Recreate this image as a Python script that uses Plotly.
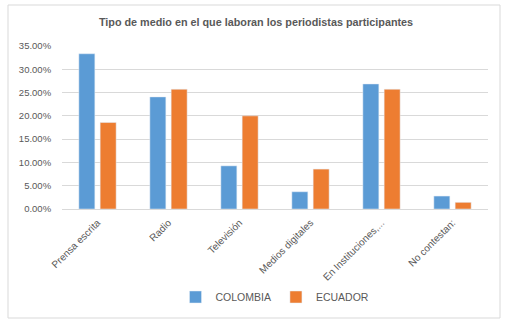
import plotly.graph_objects as go

categories = ["Prensa escrita", "Radio", "Televisión", "Medios digitales", "En Instituciones,...", "No contestan:"]
colombia = [33.33, 24.07, 9.26, 3.70, 26.85, 2.78]
ecuador = [18.57, 25.71, 20.00, 8.57, 25.71, 1.43]
series_names = ["COLOMBIA", "ECUADOR"]

W, H = 512, 323
L, R, T, B = 62, 24, 46, 114
pw, ph = W - L - R, H - T - B

def px_x(x):
    return (x - L) / pw

def px_y(y):
    return (H - B - y) / ph

fig = go.Figure()
fig.add_bar(x=categories, y=[v / 100 for v in colombia], name=series_names[0], marker_color="#5B9BD5")
fig.add_bar(x=categories, y=[v / 100 for v in ecuador], name=series_names[1], marker_color="#ED7D31")

font_family = "Liberation Sans, Arial, sans-serif"
fig.update_layout(
    width=W, height=H,
    margin=dict(l=L, r=R, t=T, b=B, autoexpand=False),
    paper_bgcolor="white", plot_bgcolor="white",
    barmode="group", bargap=0.4, bargroupgap=0.25,
    title=dict(text="<b>Tipo de medio en el que laboran los periodistas participantes</b>",
               x=0.5, xanchor="center", xref="container", y=1 - 22 / H, yanchor="middle",
               font=dict(family=font_family, size=10.8, color="#595959")),
    font=dict(family=font_family, size=9.5, color="#595959"),
    showlegend=True,
    legend=dict(orientation="h", x=0.5, xanchor="center", yref="container", y=1 - 297 / H, yanchor="middle",
                font=dict(size=10.5, color="#595959"), itemwidth=30, traceorder="normal"),
    xaxis=dict(tickangle=-45, showgrid=False, showline=True, linecolor="#d9d9d9", automargin=False,
               ticks="outside", ticklen=3, tickcolor="rgba(0,0,0,0)", tickfont=dict(size=10, color="#595959")),
    yaxis=dict(range=[0, 0.35], dtick=0.05, tickformat=".2%", showgrid=True, gridcolor="#d9d9d9",
               zeroline=False, showline=False, automargin=False,
               ticks="outside", ticklen=8, tickcolor="rgba(0,0,0,0)", tickfont=dict(size=9.5, color="#595959")),
    shapes=[dict(type="rect", xref="paper", yref="paper",
                 x0=px_x(8), x1=px_x(500), y0=px_y(318), y1=px_y(5),
                 line=dict(color="#d9d9d9", width=1), fillcolor="rgba(0,0,0,0)", layer="below")],
)

fig.write_html("out.html", post_script="document.body.style.margin='0';",
               config={"displayModeBar": False, "staticPlot": True})
